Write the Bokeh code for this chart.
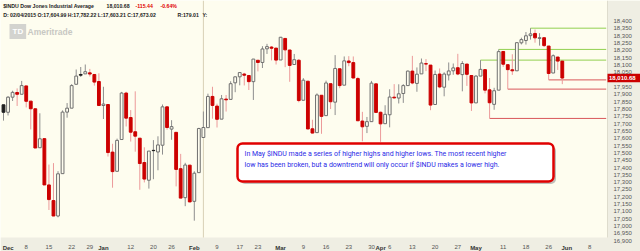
import pandas as pd
from bokeh.plotting import figure
from bokeh.models import Range1d, FixedTicker, Label, NumeralTickFormatter, LinearAxis
from bokeh.embed import file_html
from bokeh.resources import INLINE

# ---------------- data ----------------
holidays = ["2014-12-25", "2015-01-01", "2015-01-19", "2015-02-16", "2015-04-03", "2015-05-25"]
calendar = [d.strftime("%Y-%m-%d") for d in pd.bdate_range("2014-12-01", "2015-06-12")
            if d.strftime("%Y-%m-%d") not in holidays]

opens = [17828, 17777, 17880, 17912, 17900, 17957, 17853, 17801, 17535, 17597,
         17281, 17174, 17069, 17358, 17778, 17805, 17968, 18035, 18039, 18046,
         18035, 17987, 17823, 17830, 17505, 17374, 17591, 17908, 17741, 17644,
         17600, 17434, 17313, 17517, 17506, 17552, 17814, 17662, 17640, 17392,
         17194, 17416, 17169, 17365, 17604.99, 17672, 17885, 17819, 17730, 17867,
         17865, 17978, 18019, 18038, 18028, 17986, 18132, 18117, 18210, 18222,
         18215, 18134, 18281, 18202, 18103, 18132, 17859, 17989, 17664, 17638,
         17893, 17754, 17972, 17846, 18074, 17962, 18127, 18116, 18007, 17717,
         17681, 17713, 17971, 17777, 17699, 17760, 17880, 17874, 17905, 17959,
         18058, 17974, 18039, 18109, 18099, 17830, 18038, 17948, 18032, 18060,
         18081, 18034, 18106, 18028, 17841, 18024, 18068, 17930, 17831, 17928,
         18192, 18102, 18067, 18060, 18251, 18267, 18300, 18315, 18281, 18286,
         18229, 18045, 18154, 18126.12]
highs = [17828, 17887, 17924, 17940, 17991, 17957, 17853, 17801, 17770, 17597,
         17420, 17430, 17375, 17790, 17840, 17969, 18069, 18086, 18103, 18073,
         18035, 18043, 17951, 17830, 17562, 17597, 17916, 17917, 17792, 17920,
         17600, 17538, 17512, 17587, 17613, 17830, 17815, 17723, 17640, 17493,
         17432, 17416, 17374, 17671, 17782.22, 17904, 17951, 17836, 17895, 17895,
         17989, 18021, 18050, 18046, 18028, 18141, 18133, 18228, 18244, 18229,
         18215, 18291, 18281, 18202, 18175, 18140, 18010, 17989, 17726, 17906,
         17893, 17993, 17972, 18167, 18074, 18158, 18160, 18158, 18019, 17780,
         17745, 17991, 17971, 17782, 17825, 17934, 17969, 17968, 17969, 18062,
         18162, 18083, 18144, 18140, 18099, 18062, 18076, 18050, 18117, 18110,
         18176, 18126, 18106, 18028, 18030, 18133, 18072, 18011, 17944, 18206,
         18192, 18102, 18173, 18253, 18286, 18325, 18351, 18342, 18317, 18286,
         18229, 18172, 18154, 18126]
lows = [17720, 17755, 17854, 17820, 17900, 17810, 17660, 17533, 17535, 17281,
        17110, 17068, 17060, 17358, 17740, 17805, 17968, 18018, 18039, 18021,
        17959, 17820, 17731, 17475, 17262, 17374, 17591, 17680, 17577, 17508,
        17248, 17298, 17256, 17320, 17381, 17488, 17658, 17589, 17271, 17191,
        17136, 17164, 17037, 17365, 17603.21, 17672, 17733, 17673, 17730, 17782,
        17865, 17914, 17961, 17960, 17929, 17861, 18056, 18079, 18175, 18131,
        18103, 18134, 18085, 17985, 18103, 17845, 17859, 17663, 17632, 17638,
        17630, 17754, 17799, 17758, 17941, 17962, 18091, 18008, 17718, 17579,
        17635, 17713, 17773, 17575, 17699, 17674, 17872, 17837, 17841, 17959,
        17968, 17917, 18039, 18058, 17791, 17830, 17941, 17886, 17994, 18033,
        18030, 17920, 17957, 17786, 17841, 18024, 17906, 17735, 17794, 17928,
        18087, 17935, 18032, 18060, 18240, 18239, 18273, 18252, 18232, 18222,
        17998, 18044, 18066, 17969]
closes = [17777, 17880, 17913, 17900, 17959, 17852, 17801, 17533, 17596, 17281,
          17181, 17069, 17357, 17778, 17805, 17959, 18024, 18030, 18054, 18038,
          17983, 17823, 17833, 17502, 17372, 17585, 17908, 17737, 17641, 17614,
          17427, 17321, 17512, 17515, 17554, 17814, 17673, 17679, 17387, 17191,
          17417, 17165, 17361, 17666, 17673.02, 17885, 17824, 17729, 17869, 17862,
          17972, 18019, 18048, 18030, 17986, 18140, 18117, 18209, 18225, 18214,
          18133, 18289, 18203, 18097, 18136, 17857, 17996, 17663, 17635, 17895,
          17749, 17977, 17849, 18076, 17959, 18128, 18116, 18011, 17719, 17678,
          17713, 17976, 17776, 17698, 17763, 17881, 17875, 17903, 17959, 18058,
          17977, 18037, 18113, 18106, 17826, 18035, 17950, 18038, 18059, 18080,
          18038, 18110, 18036, 17841, 18024, 18070, 17928, 17842, 17924, 18191,
          18105, 18068, 18060, 18252, 18273, 18299, 18312, 18285, 18286, 18232,
          18042, 18163, 18126.12, 18010.68]

resistance_dates = ["2015-05-04", "2015-05-08", "2015-05-19"]   # highs
support_dates = ["2015-05-06", "2015-05-12", "2015-05-26"]      # lows
cursor_date = "2015-02-04"

tick_dates = ["2014-12-01", "2014-12-08", "2014-12-15", "2014-12-22", "2014-12-29",
              "2015-01-02", "2015-01-12", "2015-01-20", "2015-01-26",
              "2015-02-02", "2015-02-09", "2015-02-17", "2015-02-23",
              "2015-03-02", "2015-03-09", "2015-03-16", "2015-03-23", "2015-03-30",
              "2015-04-01", "2015-04-06", "2015-04-13", "2015-04-20", "2015-04-27",
              "2015-05-01", "2015-05-11", "2015-05-18", "2015-05-26",
              "2015-06-01", "2015-06-08"]
tick_labels = ["Dec", "8", "15", "22", "29", "Jan", "12", "20", "26", "Feb", "9", "17", "23",
               "Mar", "9", "16", "23", "30", "Apr", "6", "13", "20", "27", "May", "11", "18", "26",
               "Jun", "8"]
month_names = ["Dec", "Jan", "Feb", "Mar", "Apr", "May", "Jun"]
price_ticks = [16900, 16950, 17000, 17050, 17100, 17150, 17200, 17250, 17300, 17350,
               17400, 17450, 17500, 17550, 17600, 17650, 17700, 17750, 17800, 17850,
               17900, 17950, 18050, 18100, 18150, 18200, 18250, 18300, 18350, 18400]

symbol = "$INDU"
name = "Dow Jones Industrial Average"
note = ["In May $INDU made a series of higher highs and higher lows. The most recent higher",
        "low has been broken, but a downtrend will only occur if $INDU makes a lower high."]

# ---------------- layout helpers (pixel -> data) ----------------
W, H = 640, 251
PLOT_W, PLOT_H = 607, 237          # price area; axis bands to the right / below
PX_PER_DAY, X0 = 4.543, 3.0
PX_PER_PT, Y_REF_PX, Y_REF = 0.1465, 20.5, 18400.0

def X(px):
    return (px - X0) / PX_PER_DAY

def Y(py):
    return Y_REF - (py - Y_REF_PX) / PX_PER_PT

BG = "#FEFDEF"
BAND = "#EFEEE3"
RED = "#CC0000"
PINK = "#EC9A9A"
GRAY = "#6F6F6F"
WGRAY = "#8E8E8E"
BLACK = "#1E1E1E"
AX_TXT = "#555555"

p = figure(width=W, height=H, output_backend="svg", toolbar_location=None,
           x_range=Range1d(X(0), X(W)), y_range=Range1d(Y(H), Y(0)),
           y_axis_location="right", min_border=0)
p.background_fill_color = BG
p.border_fill_color = BG
p.outline_line_color = None
p.grid.visible = False

# axis bands
p.quad(left=X(PLOT_W), right=X(W), top=Y(0), bottom=Y(H), fill_color=BAND, line_color=None)
p.quad(left=X(0), right=X(W), top=Y(PLOT_H), bottom=Y(H), fill_color=BAND, line_color=None)
p.segment(x0=X(PLOT_W), y0=Y(0), x1=X(PLOT_W), y1=Y(PLOT_H), line_color="#DEDCCD", line_width=1)

# price axis (right)
ya = p.yaxis[0]
ya.fixed_location = X(PLOT_W)
ya.ticker = FixedTicker(ticks=price_ticks)
ya.formatter = NumeralTickFormatter(format="0,0")
ya.major_label_text_font = "Liberation Sans"
ya.major_label_text_font_size = "6px"
ya.major_label_text_color = AX_TXT
ya.major_tick_line_color = None
ya.minor_tick_line_color = None
ya.axis_line_color = None
ya.major_label_standoff = 0

# date axes (days, and bold month names)
pos = {d: i for i, d in enumerate(calendar)}
tick_pos = [pos[d] for d in tick_dates]
day_ticks = [t for t, l in zip(tick_pos, tick_labels) if l not in month_names]
xa = p.xaxis[0]
xa.fixed_location = Y(PLOT_H)
xa.ticker = FixedTicker(ticks=day_ticks)
xa.major_label_overrides = {t: l for t, l in zip(tick_pos, tick_labels) if l not in month_names}
month_ticks, month_over = [], {}
for t, l in zip(tick_pos, tick_labels):
    if l in month_names:
        tt = max(t, X(7.7))
        month_ticks.append(tt)
        month_over[tt] = l
ma = LinearAxis(ticker=FixedTicker(ticks=month_ticks), major_label_overrides=month_over,
                fixed_location=Y(PLOT_H))
p.add_layout(ma, "below")
for ax, style, col in ((xa, "normal", AX_TXT), (ma, "bold", "#333333")):
    ax.major_label_text_font = "Liberation Sans"
    ax.major_label_text_font_size = "6px"
    ax.major_label_text_font_style = style
    ax.major_label_text_color = col
    ax.major_tick_line_color = None
    ax.minor_tick_line_color = None
    ax.axis_line_color = None
    ax.major_label_standoff = 1

# cursor line
k = pos[cursor_date]
p.segment(x0=k, y0=Y(0), x1=k, y1=Y(PLOT_H), line_color="#D8D1B6", line_width=1)

# watermark logo
p.add_layout(Label(x=X(9), y=Y(31), text="TD", text_baseline="middle", text_font="Liberation Sans",
                   text_font_style="bold", text_font_size="8px", text_color="#FFFFFF",
                   background_fill_color="#D3D3CF", padding=3))
p.add_layout(Label(x=X(27), y=Y(31), text="Ameritrade", text_baseline="middle", text_font="Liberation Sans",
                   text_font_style="bold", text_font_size="8.5px", text_color="#C8C8C3"))

# candles
n = len(closes)
xs = list(range(n))
body_fill, body_line, wick_col = [], [], []
for i in range(n):
    o, c = opens[i], closes[i]
    down = i > 0 and c < closes[i - 1]
    filled = c < o
    col = RED if down else (BLACK if filled else GRAY)
    body_line.append(col)
    body_fill.append(col if filled else BG)
    wick_col.append(PINK if down else WGRAY)
tops = [max(o, c) for o, c in zip(opens, closes)]
bots = [min(o, c) for o, c in zip(opens, closes)]

# support / resistance lines
x_end = X(605.7)
for d in resistance_dates:
    i = pos[d]
    p.segment(x0=i, y0=highs[i], x1=x_end, y1=highs[i], line_color="#92D050", line_width=1)
for d in support_dates:
    i = pos[d]
    p.segment(x0=i, y0=lows[i], x1=x_end, y1=lows[i], line_color="#D9575A", line_width=1)

p.segment(x0=xs, y0=lows, x1=xs, y1=highs, line_color=wick_col, line_width=1)
p.vbar(x=xs, width=0.62, top=tops, bottom=bots, fill_color=body_fill, line_color=body_line, line_width=1)

# last price marker
last = closes[-1]
chg = last - closes[-2]
pct = chg / closes[-2] * 100
half = 4.2 / PX_PER_PT
p.quad(left=X(PLOT_W), right=X(W), top=last + half, bottom=last - half, fill_color=RED, line_color=None)
p.add_layout(Label(x=X(PLOT_W + 1.5), y=last, text=f"{last:,.2f}", text_baseline="middle",
                   text_font="Liberation Sans", text_font_style="bold", text_font_size="6px",
                   text_color="#FFFFFF"))

# header
hdr = dict(text_baseline="middle", text_font="Liberation Sans", text_font_style="bold", text_font_size="5.2px")
p.add_layout(Label(x=X(2.7), y=Y(5.7), text=f"{symbol} {name}", text_color="#222222", **hdr))
p.add_layout(Label(x=X(106), y=Y(5.7), text=f"{last:,.2f}", text_color="#222222", **hdr))
p.add_layout(Label(x=X(135), y=Y(5.7), text=f"{chg:,.2f}", text_color="#E00000", **hdr))
p.add_layout(Label(x=X(160), y=Y(5.7), text=f"{pct:.2f}%", text_color="#E00000", **hdr))
mm, dd, yy = cursor_date[5:7], cursor_date[8:10], cursor_date[0:4]
line2 = (f"D: {mm}/{dd}/{yy} O:{opens[k]:,.2f} H:{highs[k]:,.2f} "
         f"L:{lows[k]:,.2f} C:{closes[k]:,.2f}")
p.add_layout(Label(x=X(2.7), y=Y(14), text=line2, text_color="#222222", **hdr))
p.add_layout(Label(x=X(177), y=Y(14), text=f"R:{highs[k] - lows[k]:,.2f}", text_color="#222222", **hdr))
p.add_layout(Label(x=X(202), y=Y(14), text="Y:", text_color="#222222", **hdr))

# annotation box
p.quad(left=X(239.5), right=X(555.5), top=Y(145.5), bottom=Y(183.5), fill_color="#8C8C8C",
       fill_alpha=0.55, line_color=None, border_radius=5)
p.quad(left=X(237), right=X(553), top=Y(143), bottom=Y(181), fill_color="#FFFFFF",
       line_color="#E00000", line_width=2.5, border_radius=5)
for j, t in enumerate(note):
    p.add_layout(Label(x=X(244), y=Y(153.5 + 10.8 * j), text=t, text_baseline="middle",
                       text_font="Roboto", text_font_size="7px", text_color="#2B2BE6"))

open("out.html", "w").write(file_html(p, INLINE))
